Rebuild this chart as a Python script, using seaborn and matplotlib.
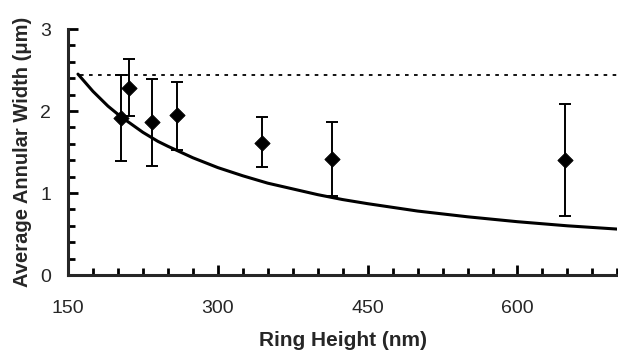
import pandas as pd
import matplotlib.pyplot as plt
import seaborn as sns
from matplotlib.ticker import MultipleLocator

# measured points
height = [203, 211, 234, 259, 344, 414, 648]
width = [1.91, 2.28, 1.86, 1.95, 1.61, 1.41, 1.40]
err_hi = [2.44, 2.63, 2.39, 2.35, 1.93, 1.87, 2.09]
err_lo = [1.39, 1.94, 1.33, 1.52, 1.32, 0.96, 0.72]

# model curve
curve_x = [160, 165, 170, 175, 180, 185, 190, 200, 210, 225, 240, 250, 275, 300,
           325, 350, 375, 400, 425, 450, 500, 550, 600, 650, 700]
curve_y = [2.45, 2.38, 2.31, 2.24, 2.18, 2.12, 2.06, 1.96, 1.87, 1.74, 1.63, 1.57,
           1.43, 1.31, 1.21, 1.12, 1.05, 0.98, 0.92, 0.87, 0.78, 0.71, 0.65, 0.60, 0.56]

limit_y = 2.44

sns.set_style("ticks")
plt.rcParams['font.family'] = ['Liberation Sans', 'DejaVu Sans']

pts = pd.DataFrame({'Height': height, 'Width': width})
crv = pd.DataFrame({'Height': curve_x, 'Width': curve_y})

fig = plt.figure(figsize=(6.18, 3.56), dpi=100)
ax = fig.add_axes([0.110, 0.2275, 0.889, 0.691])

ax.axhline(limit_y, xmin=(162 - 150) / 550, color='black', lw=1.3, ls=(0, (2, 3)))
sns.lineplot(data=crv, x='Height', y='Width', color='black', lw=2.2, ax=ax)
yerr = [[w - lo for w, lo in zip(width, err_lo)], [hi - w for w, hi in zip(width, err_hi)]]
ax.errorbar(height, width, yerr=yerr, fmt='none', ecolor='black', elinewidth=1.4,
            capsize=4.5, capthick=1.4)
sns.scatterplot(data=pts, x='Height', y='Width', marker='D', color='black', s=60,
                edgecolor='black', zorder=5, ax=ax)

ax.set_xlim(150, 700)
ax.set_ylim(0, 3)
ax.xaxis.set_major_locator(MultipleLocator(150))
ax.xaxis.set_minor_locator(MultipleLocator(25))
ax.yaxis.set_major_locator(MultipleLocator(1))
ax.yaxis.set_minor_locator(MultipleLocator(0.2))
ax.tick_params(which='both', direction='in', width=2, labelsize=14, color='black')
ax.tick_params(which='major', length=7)
ax.tick_params(which='minor', length=5)
ax.tick_params(axis='x', pad=18)
ax.tick_params(axis='y', pad=12)
for s in ['left', 'bottom']:
    ax.spines[s].set_linewidth(2.2)
sns.despine(ax=ax)

ax.set_xlabel("Ring Height (nm)", fontsize=15, fontweight='bold', labelpad=10)
ax.set_ylabel("Average Annular Width (\u03bcm)", fontsize=14.5, fontweight='bold', labelpad=6)

fig.savefig("out.png", dpi=100)
